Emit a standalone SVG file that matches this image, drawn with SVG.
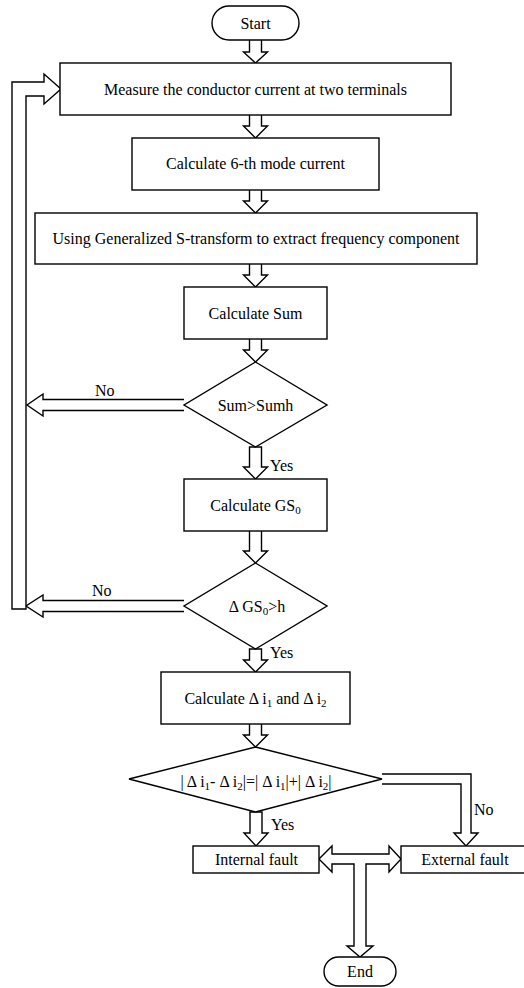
<svg xmlns="http://www.w3.org/2000/svg" width="524" height="988" viewBox="0 0 524 988">
<style>
.n{fill:#fff;stroke:#000;stroke-width:1.4}
.c{fill:#fff;stroke:#000;stroke-width:1.4;stroke-linejoin:miter}
text{font-family:"Liberation Serif","Times New Roman",serif;font-size:16px;fill:#000}
.m{text-anchor:middle}
.s{font-size:11px}
</style>
<rect width="524" height="988" fill="#fff"/>
<g id="connectors">
<path class="c" d="M249.5 40V52H243.5L255.5 63L267.5 52H261.5V40"/>
<path class="c" d="M249.5 115V126H243.5L255.5 138L267.5 126H261.5V115"/>
<path class="c" d="M249.5 190V201H243.5L255.5 213L267.5 201H261.5V190"/>
<path class="c" d="M249.5 264V275H243.5L255.5 287L267.5 275H261.5V264"/>
<path class="c" d="M249.5 339V350H243.5L255.5 362L267.5 350H261.5V339"/>
<path class="c" d="M249.5 447V467H243.5L255.5 479L267.5 467H261.5V447Z"/>
<path class="c" d="M249.5 531V551H243.5L255.5 563L267.5 551H261.5V531"/>
<path class="c" d="M249.5 649V660H243.5L255.5 672L267.5 660H261.5V649Z"/>
<path class="c" d="M249.5 724V735H243.5L255.5 747L267.5 735H261.5V724"/>
<path class="c" d="M250 812V833H244L256 846L268 833H262V812Z"/>
<path class="c" d="M184 399.5H43V394L27 405L43 416V410.5H184"/>
<path class="c" d="M184 600.5H43V595L26 606L43 617V611.5H184"/>
<path class="c" d="M12 609V82H44V74L61 89L44 104V96H26V609Z"/>
<path class="c" d="M382 774H471V833H478L466 846L454 833H461V784H382"/>
<path class="c" d="M319 859L332 846V854H389V846L401 859L389 872V864H366V946H373L360 957L347 946H354V864H332V872Z"/>
<text x="95" y="396">No</text>
<text x="92" y="596">No</text>
<text x="270" y="471">Yes</text>
<text x="270" y="658">Yes</text>
<text x="271" y="830">Yes</text>
<text x="474" y="815">No</text>
</g>
<g id="start"><rect class="n" x="212" y="6" width="87" height="34" rx="17"/><text class="m" x="255.5" y="28.5">Start</text></g>
<g id="measure"><rect class="n" x="60" y="63" width="391" height="52"/><text class="m" x="255.5" y="95">Measure the conductor current at two terminals</text></g>
<g id="mode6"><rect class="n" x="132" y="138" width="247" height="52"/><text class="m" x="255.5" y="169">Calculate 6-th mode current</text></g>
<g id="gst"><rect class="n" x="35" y="213" width="442" height="51"/><text class="m" x="256" y="243.5">Using Generalized S-transform to extract frequency component</text></g>
<g id="sum"><rect class="n" x="184" y="287" width="143" height="52"/><text class="m" x="255.5" y="318.5">Calculate Sum</text></g>
<g id="dec1"><polygon class="n" points="255.5,362 327,405 255.5,447 184,405"/><text class="m" x="255.5" y="410.5">Sum&gt;Sumh</text></g>
<g id="gs0"><rect class="n" x="184" y="479" width="143" height="52"/><text class="m" x="255.5" y="510.5">Calculate GS<tspan class="s" dy="3">0</tspan></text></g>
<g id="dec2"><polygon class="n" points="255.5,563 327,606 255.5,649 184,606"/><text class="m" x="257" y="611.5">Δ GS<tspan class="s" dy="3">0</tspan><tspan dy="-3">&gt;h</tspan></text></g>
<g id="deltai"><rect class="n" x="161" y="672" width="189" height="52"/><text class="m" x="255.5" y="704">Calculate  Δ i<tspan class="s" dy="3">1</tspan><tspan dy="-3"> and  Δ i</tspan><tspan class="s" dy="3">2</tspan></text></g>
<g id="dec3"><polygon class="n" points="255.5,747 382,779 255.5,812 129,779"/><text class="m" x="256" y="786.5">| Δ i<tspan class="s" dy="3">1</tspan><tspan dy="-3">- Δ i</tspan><tspan class="s" dy="3">2</tspan><tspan dy="-3">|=| Δ i</tspan><tspan class="s" dy="3">1</tspan><tspan dy="-3">|+| Δ i</tspan><tspan class="s" dy="3">2</tspan><tspan dy="-3">|</tspan></text></g>
<g id="internal"><rect class="n" x="193" y="846" width="126" height="27"/><text class="m" x="256.5" y="865">Internal fault</text></g>
<g id="external"><rect class="n" x="401" y="846" width="130" height="27"/><text class="m" x="465" y="865">External fault</text></g>
<g id="end"><rect class="n" x="324" y="957" width="72" height="29" rx="14.5"/><text class="m" x="360" y="977">End</text></g>
</svg>
